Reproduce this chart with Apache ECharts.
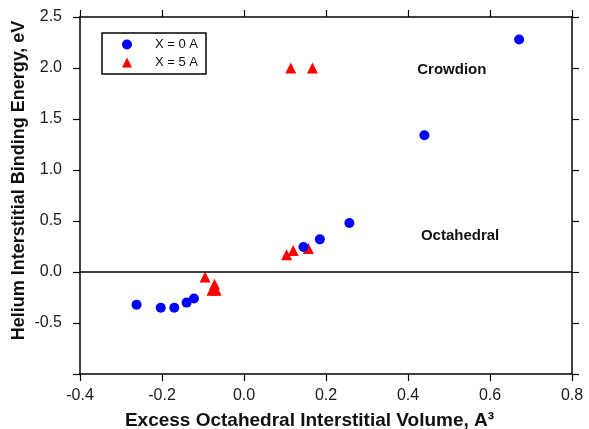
<!DOCTYPE html>
<html>
<head>
<meta charset="utf-8">
<script src="https://cdn.jsdelivr.net/npm/echarts@6/dist/echarts.min.js"></script>
<style>html,body{margin:0;padding:0;background:#fff}#c{width:589px;height:429px}</style>
</head>
<body>
<div id="c"></div>
<script>
// Series X = 0 A (blue circles)
const x0Vol = [-0.262, -0.203, -0.170, -0.140, -0.122, 0.145, 0.185, 0.257, 0.440, 0.671];
const x0Energy = [-0.32, -0.35, -0.35, -0.30, -0.26, 0.245, 0.32, 0.48, 1.34, 2.28];
// Series X = 5 A (red triangles)
const x5Vol = [-0.095, -0.072, -0.078, -0.068, 0.104, 0.120, 0.157, 0.114, 0.167];
const x5Energy = [-0.05, -0.12, -0.18, -0.18, 0.17, 0.21, 0.23, 2.00, 2.00];
const seriesNames = ['X = 0 A', 'X = 5 A'];
const xTicks = {min: -0.4, max: 0.8, interval: 0.2};
const yTicks = {min: -1.0, max: 2.5, interval: 0.5};
const annotations = [
  {text: 'Crowdion', x: 0.507, y: 1.98},
  {text: 'Octahedral', x: 0.527, y: 0.35}
];

const pairs = (xs, ys) => xs.map((v, i) => [v, ys[i]]);
const chart = echarts.init(document.getElementById('c'));
const FONT = 'Liberation Sans, Arial, sans-serif';
const axisCommon = {
  axisLine: {show: true, onZero: false, lineStyle: {color: '#000', width: 1.5}},
  axisTick: {show: true, inside: false, length: 7, lineStyle: {color: '#000', width: 1.2}},
  splitLine: {show: false}
};
chart.setOption({
  animation: false,
  grid: {left: 80, right: 17, top: 17, bottom: 55, containLabel: false, outerBoundsMode: 'none'},
  legend: {
    data: seriesNames,
    orient: 'vertical',
    left: 102, top: 33,
    padding: [5, 8, 5, 20],
    itemGap: 5,
    itemWidth: 10, itemHeight: 10,
    borderColor: '#000', borderWidth: 1.5,
    textStyle: {fontFamily: FONT, fontSize: 13, color: '#111', padding: [0, 0, 0, 18]}
  },
  xAxis: [
    Object.assign({
      type: 'value', position: 'bottom',
      min: xTicks.min, max: xTicks.max, interval: xTicks.interval,
      name: 'Excess Octahedral Interstitial Volume, A³',
      nameLocation: 'middle', nameGap: 37,
      nameTextStyle: {fontFamily: FONT, fontWeight: 'bold', fontSize: 19, color: '#111', padding: [0, 33, 0, 0]},
      axisLabel: {fontFamily: FONT, fontSize: 16, color: '#1a1a1a', margin: 14,
        formatter: v => v.toFixed(1)}
    }, axisCommon),
    Object.assign({
      type: 'value', position: 'top',
      min: xTicks.min, max: xTicks.max, interval: xTicks.interval,
      axisLabel: {show: false}
    }, axisCommon)
  ],
  yAxis: [
    Object.assign({
      type: 'value', position: 'left',
      min: yTicks.min, max: yTicks.max, interval: yTicks.interval,
      name: 'Helium Interstitial Binding Energy, eV',
      nameLocation: 'middle', nameGap: 52, nameRotate: 90, nameMoveOverlap: false,
      nameTextStyle: {fontFamily: FONT, fontWeight: 'bold', fontSize: 18, color: '#111', padding: [0, 0, 0, 30]},
      axisLabel: {fontFamily: FONT, fontSize: 16, color: '#1a1a1a', margin: 18,
        formatter: v => (Math.abs(v - yTicks.min) < 1e-9 ? '' : v.toFixed(1))}
    }, axisCommon),
    Object.assign({
      type: 'value', position: 'right',
      min: yTicks.min, max: yTicks.max, interval: yTicks.interval,
      axisLabel: {show: false}
    }, axisCommon)
  ],
  series: [
    {
      name: seriesNames[1], type: 'scatter', symbol: 'triangle', symbolSize: 11,
      itemStyle: {color: '#ff0000', opacity: 1},
      data: pairs(x5Vol, x5Energy), z: 3,
      markLine: {
        silent: true, symbol: 'none', label: {show: false},
        lineStyle: {color: '#000', width: 1.5, type: 'solid'},
        data: [{yAxis: 0}]
      }
    },
    {
      name: seriesNames[0], type: 'scatter', symbol: 'circle', symbolSize: 10,
      itemStyle: {color: '#0000ff', opacity: 1},
      data: pairs(x0Vol, x0Energy), z: 4,
      markPoint: {
        symbol: 'circle', symbolSize: 0,
        label: {show: true, position: 'inside', fontFamily: FONT, fontWeight: 'bold', fontSize: 15, color: '#111',
          formatter: p => p.name},
        data: annotations.map(a => ({name: a.text, coord: [a.x, a.y]}))
      }
    }
  ]
});
</script>
</body>
</html>
